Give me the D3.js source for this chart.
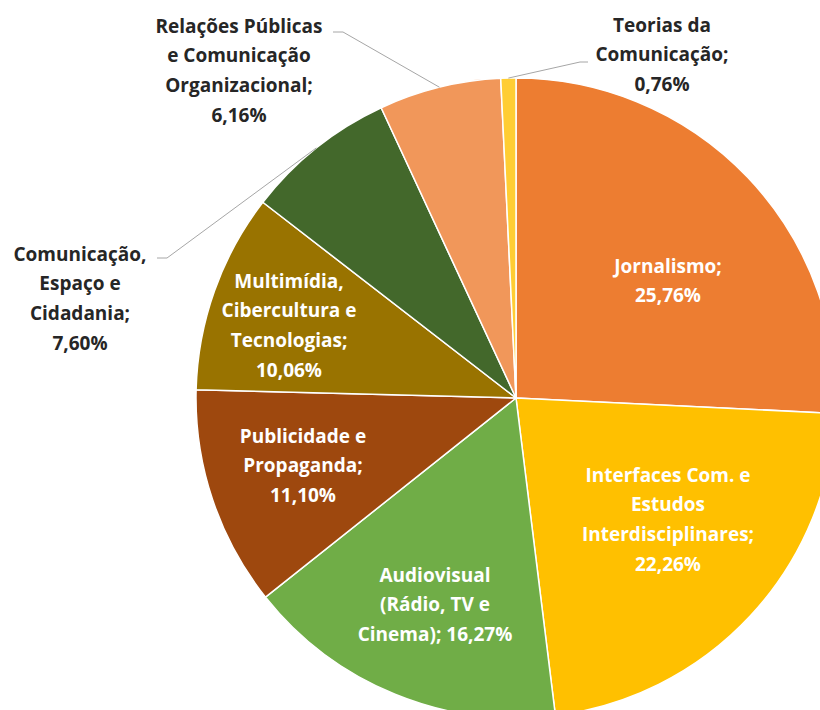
<!DOCTYPE html>
<html>
<head>
<meta charset="utf-8">
<script src="https://cdn.jsdelivr.net/npm/d3@7"></script>
<style>
  body { margin: 0; background: #fff; }
  svg { display: block; font-family: 'Open Sans', Lato, sans-serif; font-weight: 700; }
</style>
</head>
<body>
<script>
let categories = [
  'Jornalismo',
  'Interfaces Com. e Estudos Interdisciplinares',
  'Audiovisual (Rádio, TV e Cinema)',
  'Publicidade e Propaganda',
  'Multimídia, Cibercultura e Tecnologias',
  'Comunicação, Espaço e Cidadania',
  'Relações Públicas e Comunicação Organizacional',
  'Teorias da Comunicação'
]
let values = [25.76, 22.26, 16.27, 11.10, 10.06, 7.60, 6.16, 0.76]
let colors = ['#ED7D31', '#FFC000', '#70AD47', '#9E480E', '#997300', '#43682B', '#F1975A', '#FFCD33']

// label layout: centre x, first line y, words per line, leader line (elbow, end) for outside labels
let labelLayout = [
  { x: 668, y: 266, wrap: [1, 1], inside: true },
  { x: 668, y: 475, wrap: [3, 1, 1, 1], inside: true },
  { x: 435, y: 575, wrap: [1, 3, 2], inside: true },
  { x: 303, y: 436, wrap: [2, 1, 1], inside: true },
  { x: 289, y: 281, wrap: [1, 2, 1, 1], inside: true },
  { x: 80, y: 254, wrap: [1, 2, 1, 1], inside: false, elbow: [167, 258], end: [157, 258] },
  { x: 239, y: 26, wrap: [2, 2, 1, 1], inside: false, elbow: [343, 32], end: [333, 32] },
  { x: 662, y: 25, wrap: [2, 1, 1], inside: false, elbow: [580, 62], end: [588, 62] }
]

let width = 820, height = 710
let cx = 516, cy = 398, radius = 320
let lineHeight = 29.8

let ptBR = d3.formatLocale({ decimal: ',', thousands: '.', grouping: [3], currency: ['R$', ''] })
let fmt = ptBR.format('.2f')

let svg = d3.select('body')
    .append('svg')
    .attr('width', width)
    .attr('height', height)

let pie = d3.pie().sort(null).value(d => d)
let arcs = pie(values)

let arc = d3.arc().innerRadius(0).outerRadius(radius)

let g = svg.append('g')
    .attr('transform', 'translate(' + cx + ',' + cy + ')')

g.selectAll('path')
    .data(arcs)
    .enter()
    .append('path')
    .attr('d', arc)
    .attr('fill', (d, i) => colors[i])
    .attr('stroke', '#fff')
    .attr('stroke-width', 1.5)
    .attr('stroke-linejoin', 'round')

//leader lines for outside labels
arcs.forEach((d, i) => {
    let L = labelLayout[i]
    if (L.inside) return
    let a = (d.startAngle + d.endAngle) / 2
    let edge = [cx + radius * Math.sin(a), cy - radius * Math.cos(a)]
    svg.append('polyline')
        .attr('points', [edge, L.elbow, L.end].map(p => p.join(',')).join(' '))
        .attr('fill', 'none')
        .attr('stroke', '#A6A6A6')
        .attr('stroke-width', 1)
})

//labels
categories.forEach((c, i) => {
    let L = labelLayout[i]
    let words = (c + '; ' + fmt(values[i]) + '%').split(' ')
    let lines = [], k = 0
    L.wrap.forEach(n => { lines.push(words.slice(k, k + n).join(' ')); k += n })
    let t = svg.append('text')
        .attr('text-anchor', 'middle')
        .attr('font-size', 19)
        .attr('fill', L.inside ? '#fff' : '#262626')
    lines.forEach((s, j) => {
        t.append('tspan')
            .attr('x', L.x)
            .attr('y', L.y + j * lineHeight)
            .attr('dy', '0.35em')
            .text(s)
    })
})
</script>
</body>
</html>
